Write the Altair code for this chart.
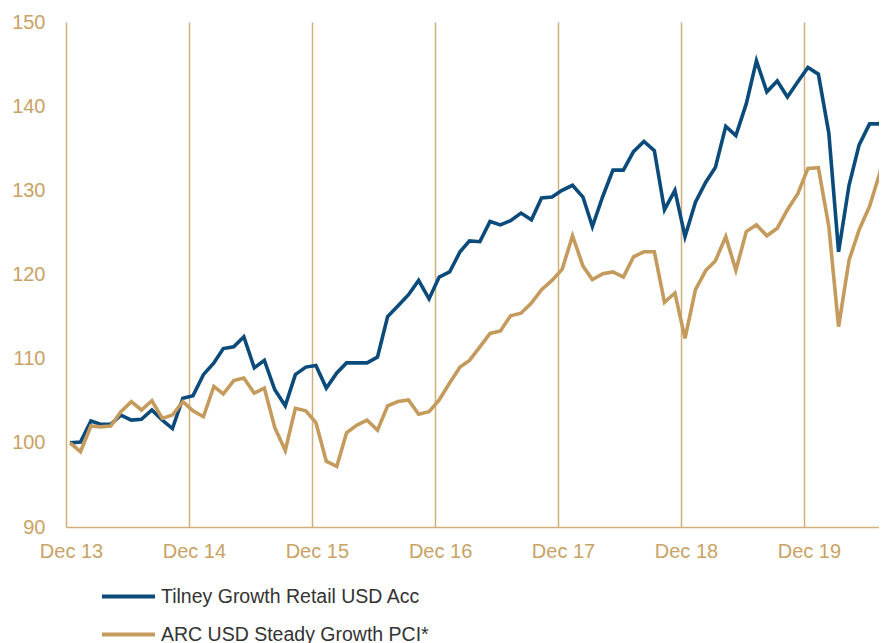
import altair as alt
import pandas as pd

# Monthly observation dates (mid-month), Dec 2013 .. Aug 2020
months = [d.strftime("%Y-%m-13") for d in pd.date_range("2013-12-01", periods=81, freq="MS")]

tilney = [
    100.0, 100.1, 102.6, 102.2, 102.2, 103.3, 102.7, 102.8, 103.9, 102.7, 101.7, 105.3,
    105.6, 108.1, 109.5, 111.2, 111.4, 112.6, 108.9, 109.8, 106.3, 104.4, 108.1, 109.0,
    109.2, 106.5, 108.3, 109.5, 109.5, 109.5, 110.2, 115.0, 116.3, 117.6, 119.3, 117.1,
    119.7, 120.3, 122.7, 124.0, 123.9, 126.3, 125.9, 126.4, 127.3, 126.5, 129.1, 129.2,
    130.0, 130.6, 129.2, 125.7, 129.3, 132.4, 132.4, 134.6, 135.8, 134.7, 127.7, 130.0,
    124.5, 128.6, 131.0, 132.7, 137.6, 136.5, 140.3, 145.4, 141.7, 143.0, 141.1, 142.9,
    144.6, 143.8, 136.8, 122.7, 130.6, 135.4, 137.9, 137.9, 141.2,
]

arc = [
    100.0, 98.95, 102.0, 101.9, 102.0, 103.7, 104.9, 103.9, 105.0, 102.9, 103.3, 104.9,
    103.8, 103.1, 106.7, 105.8, 107.4, 107.7, 105.9, 106.5, 101.8, 99.1, 104.1, 103.8,
    102.4, 97.8, 97.2, 101.2, 102.1, 102.7, 101.5, 104.4, 104.9, 105.1, 103.4, 103.7,
    105.1, 107.1, 109.0, 109.8, 111.4, 113.0, 113.3, 115.1, 115.4, 116.6, 118.2, 119.3,
    120.6, 124.6, 121.0, 119.4, 120.1, 120.3, 119.7, 122.1, 122.7, 122.7, 116.7, 117.8,
    112.4, 118.2, 120.5, 121.6, 124.5, 120.5, 125.1, 125.9, 124.6, 125.5, 127.7, 129.6,
    132.6, 132.7, 125.7, 113.8, 121.7, 125.3, 128.1, 132.0, 137.0,
]

series_names = ["Tilney Growth Retail USD Acc", "ARC USD Steady Growth PCI*"]
series_colors = ["#0b4b7b", "#c49b5c"]
year_ticks = [2013, 2014, 2015, 2016, 2017, 2018, 2019]
y_ticks = [90, 100, 110, 120, 130, 140, 150]

TAN_TEXT = "#c9a265"
GRID = "#cfb07c"

df = pd.DataFrame({
    "date": months * 2,
    "value": tilney + arc,
    "series": [series_names[0]] * len(tilney) + [series_names[1]] * len(arc),
})

x_enc = alt.X(
    "date:T",
    title=None,
    scale=alt.Scale(
        type="utc",
        domain=[alt.DateTime(year=2013, month=12, date=1, utc=True),
                alt.DateTime(year=2020, month=7, date=11, utc=True)],
    ),
    axis=alt.Axis(
        values=[alt.DateTime(year=y, month=12, date=1, utc=True) for y in year_ticks],
        format="%b %y",
        grid=True, gridColor=GRID, gridWidth=1.5,
        domain=True, domainColor=GRID, domainWidth=1.5,
        ticks=False, labelPadding=14, labelOffset=5,
        labelFontSize=20, labelColor=TAN_TEXT,
        labelFlush=False, labelOverlap=False,
    ),
)
y_enc = alt.Y(
    "value:Q",
    title=None,
    scale=alt.Scale(domain=[90, 150], nice=False, zero=False),
    axis=alt.Axis(
        values=y_ticks, grid=False, domain=False, ticks=False,
        labelPadding=21, labelFontSize=20, labelColor=TAN_TEXT, labelFlush=False,
    ),
)
color_enc = alt.Color(
    "series:N",
    scale=alt.Scale(domain=series_names, range=series_colors),
    legend=alt.Legend(
        title=None, orient="none", legendX=34, legendY=546, direction="vertical",
        padding=0, rowPadding=-17, symbolType="stroke", symbolSize=2809,
        symbolStrokeWidth=4, labelOffset=4, labelFontSize=19.5, labelColor="#333333",
        labelLimit=0,
    ),
)

base = alt.Chart(df).encode(x=x_enc, y=y_enc, color=color_enc)
blue = base.transform_filter(alt.datum.series == series_names[0]).mark_line(strokeWidth=3.6, clip=True)
tan = base.transform_filter(alt.datum.series == series_names[1]).mark_line(strokeWidth=3.6, clip=True)

chart = (
    alt.layer(blue, tan)
    .properties(
        width=813, height=505,
        autosize=alt.AutoSizeParams(type="none"),
        padding={"left": 58, "top": 14, "right": 0, "bottom": 116},
    )
    .configure(font="Liberation Sans")
    .configure_view(stroke=None)
)

chart.save("out.html", embed_options={"renderer": "svg", "actions": False})
